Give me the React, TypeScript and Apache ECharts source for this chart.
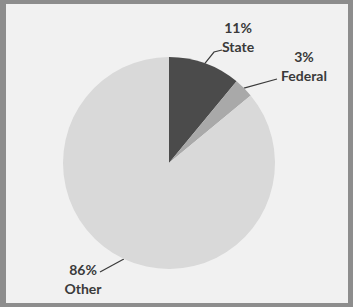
import React, { useEffect, useRef } from "react";
import * as echarts from "echarts";

const categories = ["State", "Federal", "Other"];
const values = [11, 3, 86];
const colors = ["#4b4b4b", "#a9a9a9", "#d9d9d9"];

// label anchor positions (text block centers) and line bends, per slice
const labelCenters = [
  [238, 37],
  [304, 66],
  [83, 279],
];
const lineBends = [
  [[214, 52], [222, 50]],
  [[277, 79]],
  [[100, 272]],
];

export default function App() {
  const ref = useRef<HTMLDivElement>(null);
  useEffect(() => {
    document.body.style.margin = "0";
    const chart = echarts.init(ref.current!, null, { renderer: "svg" });
    chart.setOption({
      animation: false,
      backgroundColor: "#8d8d8d",
      graphic: [
        {
          type: "rect",
          z: -10,
          shape: { x: 6, y: 4, width: 342, height: 299 },
          style: { fill: "#f1f1f1" },
          silent: true,
        },
      ],
      series: [
        {
          type: "pie",
          center: [169, 163],
          radius: 106,
          startAngle: 90,
          clockwise: true,
          data: categories.map((c, i) => ({
            name: c,
            value: values[i],
            itemStyle: { color: colors[i] },
          })),
          label: {
            show: true,
            formatter: "{c}%\n{b}",
            fontFamily: "Lato",
            fontWeight: "bold",
            fontSize: 14,
            lineHeight: 19,
            color: "#3a3a3a",
            align: "center",
          },
          labelLine: {
            show: true,
            lineStyle: { color: "#3a3a3a", width: 1.2 },
          },
          labelLayout: (params: any) => {
            const i = params.dataIndex;
            const first = params.labelLinePoints ? params.labelLinePoints[0] : null;
            const pts = first ? [first, ...lineBends[i]] : undefined;
            return {
              x: labelCenters[i][0],
              y: labelCenters[i][1],
              align: "center",
              verticalAlign: "middle",
              labelLinePoints: pts,
            };
          },
        },
      ],
    });
    return () => chart.dispose();
  }, []);
  return <div ref={ref} style={{ width: 353, height: 307 }} />;
}
